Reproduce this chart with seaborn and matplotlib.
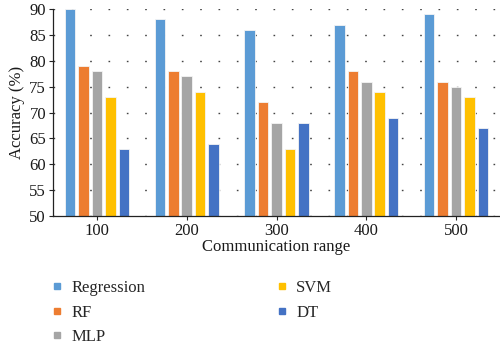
import matplotlib
matplotlib.use("Agg")
import matplotlib.pyplot as plt
import seaborn as sns
import pandas as pd
from matplotlib.lines import Line2D

ranges = ["100", "200", "300", "400", "500"]
models = ["Regression", "RF", "MLP", "SVM", "DT"]
regression = [90, 88, 86, 87, 89]
rf = [79, 78, 72, 78, 76]
mlp = [78, 77, 68, 76, 75]
svm = [73, 74, 63, 74, 73]
dt = [63, 64, 68, 69, 67]
colors = ["#5B9BD5", "#ED7D31", "#A5A5A5", "#FFC000", "#4472C4"]

rows = []
for m, vals in zip(models, [regression, rf, mlp, svm, dt]):
    for r, v in zip(ranges, vals):
        rows.append({"range": r, "model": m, "acc": v})
df = pd.DataFrame(rows)

sns.set_theme(style="white")
plt.rcParams['font.family'] = ['Liberation Serif', 'DejaVu Serif']

fig = plt.figure(figsize=(5.0, 3.49), dpi=100)
ax = fig.add_axes([0.106, 0.381, 0.894, 0.593])

sns.barplot(data=df, x="range", y="acc", hue="model", hue_order=models,
            order=ranges, palette=colors, saturation=1, width=0.75, gap=0.22,
            edgecolor="#f4f4f4", linewidth=0.6, ax=ax, legend=False)

ax.set_ylim(50, 90)
ax.set_yticks(range(50, 91, 5))
ax.set_xlim(-0.49, 4.49)
ax.yaxis.grid(True, linestyle=(0, (1.2, 12)), color="#444444", linewidth=1.0)
ax.set_axisbelow(True)
for s in ["top", "right"]:
    ax.spines[s].set_visible(False)
for s in ["left", "bottom"]:
    ax.spines[s].set_color("#222222")
    ax.spines[s].set_linewidth(0.9)
ax.tick_params(axis="both", which="both", direction="out", length=3,
               width=0.8, color="#222222", labelsize=12, pad=2,
               left=True, bottom=True, labelcolor="#1a1a1a")
ax.set_xlabel("Communication range", fontsize=12, color="#1a1a1a", labelpad=0)
ax.set_ylabel("Accuracy (%)", fontsize=12, color="#1a1a1a", labelpad=3)

handles = [Line2D([0], [0], marker="s", linestyle="none", markersize=5,
                  markerfacecolor=c, markeredgecolor=c) for c in colors]
fig.legend(handles, models, ncol=2, loc="upper left",
           bbox_to_anchor=(0.098, 0.197), frameon=False, fontsize=12,
           handlelength=1.0, handletextpad=0.35, columnspacing=7.7,
           labelspacing=0.5, borderaxespad=0, borderpad=0)

fig.savefig("out.png", dpi=100)
